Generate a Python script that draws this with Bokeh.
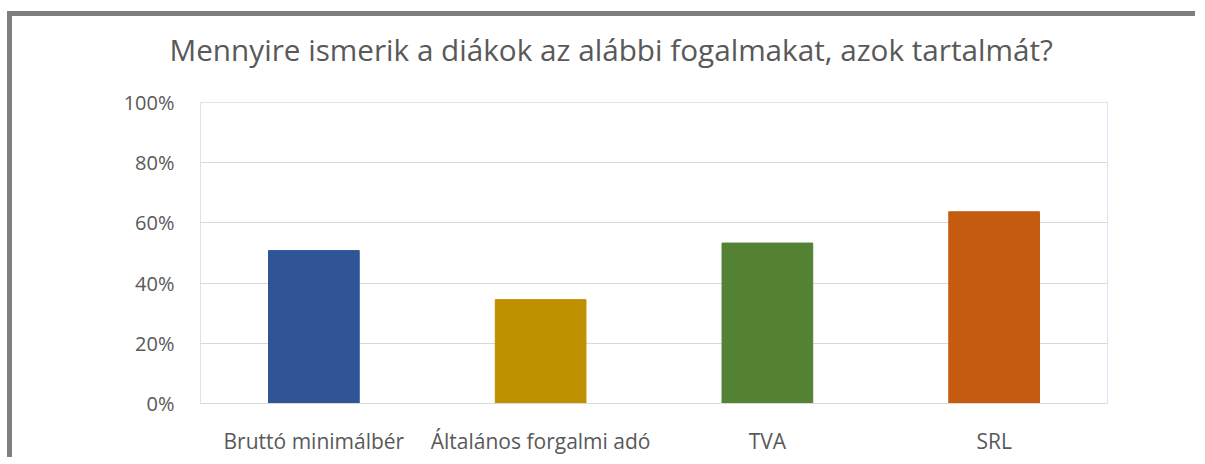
from bokeh.plotting import figure
from bokeh.models import NumeralTickFormatter, FixedTicker, ColumnDataSource, Title
from bokeh.embed import file_html
from bokeh.resources import INLINE

categories = ["Bruttó minimálbér", "Általános forgalmi adó", "TVA", "SRL"]
values = [0.508, 0.345, 0.533, 0.637]
colors = ["#2F5597", "#BF9000", "#548235", "#C55A11"]
y_ticks = [0, 0.2, 0.4, 0.6, 0.8, 1.0]
title_text = "Mennyire ismerik a diákok az alábbi fogalmakat, azok tartalmát?"

FONT = "Open Sans"

src = ColumnDataSource(dict(cat=categories, val=values, col=colors))

p = figure(x_range=categories, y_range=(0, 1), width=1188, height=446,
           output_backend="svg", toolbar_location=None,
           min_border_left=188, min_border_right=93, min_border_top=86, min_border_bottom=59)
p.styles = {"border-top": "5px solid #7f7f7f", "border-left": "5px solid #7f7f7f",
            "margin-top": "11px", "margin-left": "7px"}

p.vbar(x="cat", top="val", width=0.4, color="col", source=src)

# main title (the figure's own title is placed outermost)
p.title.text = title_text
p.title.align = "left"
p.title.offset = -31
p.title.standoff = 18
p.title.text_font = FONT
p.title.text_font_size = "29.7px"
p.title.text_font_style = "normal"
p.title.text_color = "#595959"

# spacer between the title and the plot frame (white on white, so it is not seen)
p.add_layout(Title(text=".", text_font_size="1px", text_color="white", standoff=21), "above")

p.outline_line_color = "#dae3f3"
p.background_fill_color = "white"
p.border_fill_color = "white"

p.xgrid.grid_line_color = None
p.ygrid.grid_line_color = "#d9d9d9"
p.ygrid.grid_line_width = 1

p.yaxis.ticker = FixedTicker(ticks=y_ticks)
p.yaxis.formatter = NumeralTickFormatter(format="0%")
p.yaxis.axis_line_color = None
p.yaxis.major_tick_line_color = None
p.yaxis.minor_tick_line_color = None
p.yaxis.major_label_text_font = FONT
p.yaxis.major_label_text_font_size = "20px"
p.yaxis.major_label_text_color = "#595959"
p.yaxis.major_label_standoff = 20

p.xaxis.axis_line_color = "#d9d9d9"
p.xaxis.major_tick_line_color = None
p.xaxis.minor_tick_line_color = None
p.xaxis.major_label_text_font = FONT
p.xaxis.major_label_text_font_size = "21px"
p.xaxis.major_label_text_color = "#595959"
p.xaxis.major_label_standoff = 17

p.x_range.range_padding = 0

open("out.html", "w").write(file_html(p, INLINE))
